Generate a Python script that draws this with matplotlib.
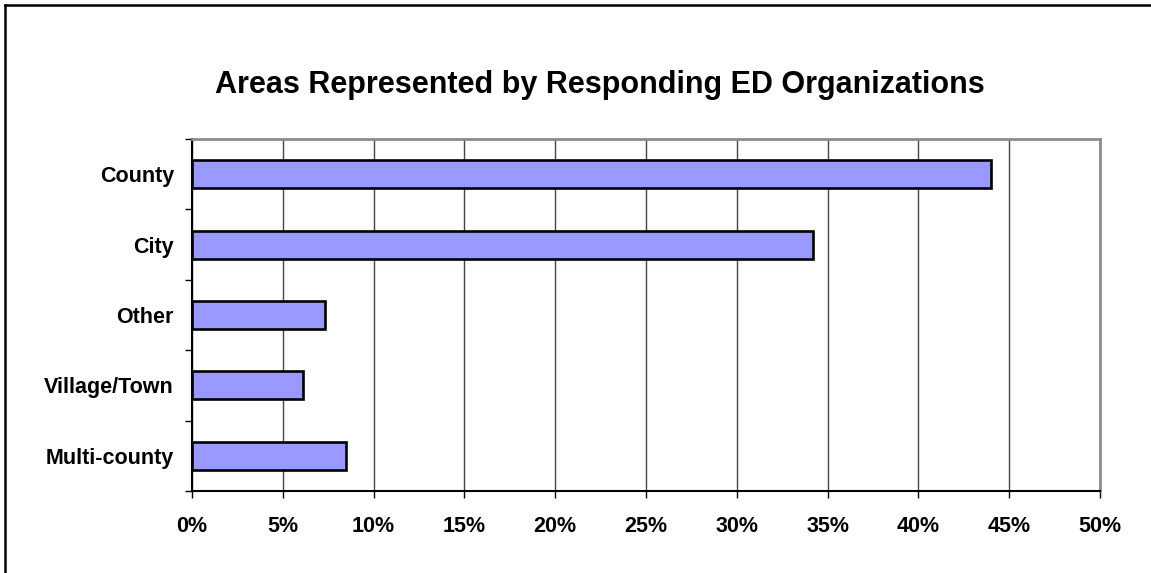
import matplotlib.pyplot as plt
import numpy as np
from matplotlib.lines import Line2D
from matplotlib.ticker import FixedLocator, PercentFormatter

plt.rcParams['font.family'] = ['Liberation Sans', 'DejaVu Sans']

# share of responding organizations by area type (top to bottom)
areas = ["County", "City", "Other", "Village/Town", "Multi-county"]
shares = [44.0, 34.2, 7.3, 6.1, 8.5]
x_ticks = [0, 5, 10, 15, 20, 25, 30, 35, 40, 45, 50]

fig = plt.figure(figsize=(11.51, 5.73), dpi=100)
ax = fig.add_axes([0.1668, 0.1431, 0.7889, 0.6143])

y = np.arange(len(areas))
ax.barh(y, shares, height=0.4, color="#9999FF", edgecolor="black",
        linewidth=1.9, zorder=3)

ax.set_xlim(0, 50)
ax.set_ylim(len(areas) - 0.5, -0.5)

ax.set_xticks(x_ticks)
ax.xaxis.set_major_formatter(PercentFormatter(decimals=0))
ax.set_yticks(y)
ax.set_yticklabels(areas)
# tick marks sit between the categories
ax.yaxis.set_minor_locator(FixedLocator(np.arange(-0.5, len(areas), 1.0)))

ax.tick_params(axis="y", which="major", length=0, pad=13,
               labelsize=15.5)
ax.tick_params(axis="y", which="minor", length=5, width=1.0,
               direction="out", color="black")
ax.tick_params(axis="x", which="major", length=5, width=1.0,
               direction="out", pad=13, labelsize=15.5, color="black")
for lbl in ax.get_xticklabels() + ax.get_yticklabels():
    lbl.set_fontweight("bold")

ax.grid(axis="x", color="#444444", linewidth=1.0, zorder=0)
ax.set_axisbelow(True)

ax.spines["left"].set_color("black")
ax.spines["left"].set_linewidth(1.5)
ax.spines["bottom"].set_color("black")
ax.spines["bottom"].set_linewidth(1.5)
ax.spines["top"].set_color("#8c8c8c")
ax.spines["top"].set_linewidth(2.0)
ax.spines["right"].set_color("#8c8c8c")
ax.spines["right"].set_linewidth(2.0)

fig.text(600 / 1151, 1 - 85 / 573, "Areas Represented by Responding ED Organizations",
         ha="center", va="center", fontsize=22, fontweight="bold")

# chart frame (left and top edges)
fig.add_artist(Line2D([5 / 1151, 5 / 1151], [0, 1 - 5 / 573],
                      color="black", linewidth=1.8, transform=fig.transFigure))
fig.add_artist(Line2D([5 / 1151, 1], [1 - 5 / 573, 1 - 5 / 573],
                      color="black", linewidth=1.8, transform=fig.transFigure))

fig.savefig("out.png", dpi=100, facecolor="white")
